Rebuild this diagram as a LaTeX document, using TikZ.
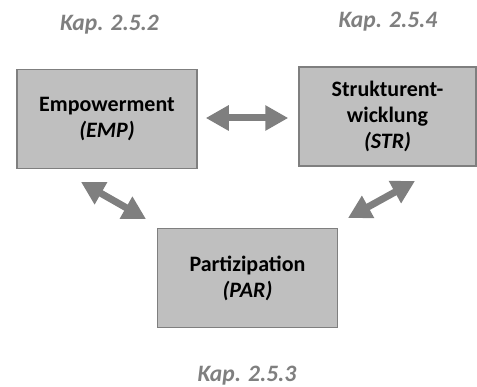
\documentclass[tikz,border=0pt]{standalone}
\usepackage{fontspec}
\setmainfont{Carlito}
\usetikzlibrary{arrows.meta,calc}

\definecolor{boxfill}{HTML}{BFBFBF}
\definecolor{boxline}{HTML}{7F7F7F}
\definecolor{arrowgray}{HTML}{7F7F7F}
\definecolor{chaptergray}{HTML}{7F7F7F}

\tikzset{
  topic/.style={rectangle, draw=boxline, fill=boxfill, line width=1.5pt,
    minimum width=180pt, minimum height=99pt, inner sep=0pt,
    align=center, font=\fontsize{22}{26}\selectfont\bfseries},
  chapter/.style={font=\fontsize{23.5}{28}\selectfont\bfseries\itshape,
    text=chaptergray, inner sep=0pt, anchor=base},
  dblarrow/.style={draw=arrowgray, line width=7pt,
    {Triangle[length=23pt,width=24pt]}-{Triangle[length=23pt,width=24pt]}},
}

\begin{document}
\begin{tikzpicture}[x=1pt, y=-1pt]
  \useasboundingbox (0,0) rectangle (477,387);

  % the three fields of action
  \node[topic] (emp) at (107,119) {Empowerment\\\textit{(EMP)}};
  \node[topic, minimum width=177pt] (str) at (387.5,116.5)
    {Strukturent-\\wicklung\\\textit{(STR)}};
  \node[topic] (par) at (247.5,278) {Partizipation\\\textit{(PAR)}};

  % chapter references
  \node[chapter] (k252) at (109.5,31) {Kap. 2.5.2};
  \node[chapter] (k254) at (388,28) {Kap. 2.5.4};
  \node[chapter] (k253) at (247,382) {Kap. 2.5.3};

  % ends of the diagonal double arrows
  \coordinate (empA) at (81,182);
  \coordinate (parA) at (146,219);
  \coordinate (parB) at (348,218);
  \coordinate (strB) at (415,181);

  % mutual relations
  \draw[dblarrow, shorten <=8pt, shorten >=10pt]
    ([yshift=1pt]emp.east) -- ([yshift=1pt]emp.east -| str.west);
  \draw[dblarrow] (empA) -- (parA);
  \draw[dblarrow] (parB) -- (strB);
\end{tikzpicture}
\end{document}
